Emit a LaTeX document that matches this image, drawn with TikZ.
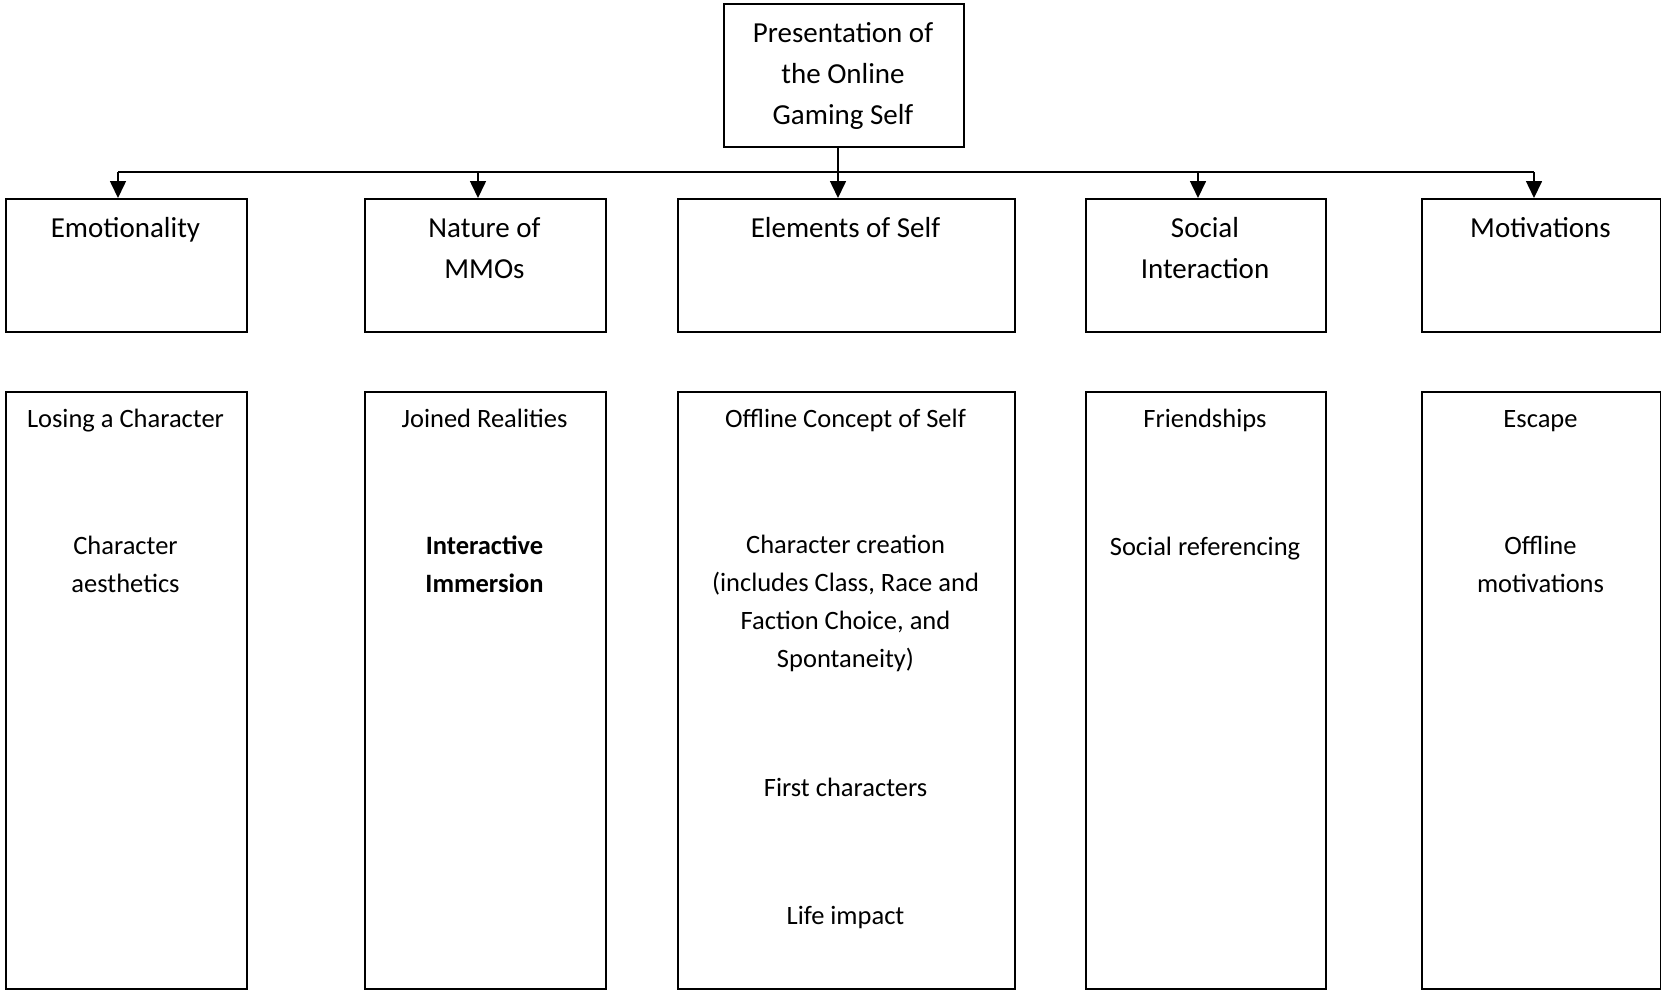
\documentclass[tikz,border=0pt]{standalone}
\usepackage{fontspec}
\setmainfont{Carlito}
\usetikzlibrary{arrows.meta}
\begin{document}
\begin{tikzpicture}[x=1pt,y=-1pt,
  box/.style={draw,line width=1.6pt,inner sep=0pt,anchor=north west},
  big/.style={font=\fontsize{29}{41}\selectfont,align=center,inner sep=0pt},
  small/.style={font=\fontsize{26.5}{38}\selectfont,align=center,inner sep=0pt},
  one/.style={text height=22pt,text depth=2.8pt},
  conn/.style={line width=1.6pt},
  arr/.style={line width=1.6pt,-{Triangle[width=16pt,length=17pt]}}]
\useasboundingbox (0,0) rectangle (1661,989);
% top box
\node[box,minimum width=240pt,minimum height=143pt] (top) at (723,3) {};
\node[big] (toptxt) at (843,76) {Presentation of\\the Online\\Gaming Self};
% row 1 boxes
\node[box,minimum width=241pt,minimum height=133pt] (e1) at (5,198) {};
\node[box,minimum width=241pt,minimum height=133pt] (e2) at (364,198) {};
\node[box,minimum width=337pt,minimum height=133pt] (e3) at (677,198) {};
\node[box,minimum width=240pt,minimum height=133pt] (e4) at (1085,198) {};
\node[box,minimum width=239pt,minimum height=133pt] (e5) at (1421,198) {};
\node[big,one] (t1) at (125.5,228) {Emotionality};
\node[big] (t2) at (484.5,248) {Nature of\\MMOs};
\node[big,one] (t3) at (845.5,228) {Elements of Self};
\node[big] (t4) at (1205,248) {Social\\Interaction};
\node[big,one] (t5) at (1540.5,228) {Motivations};
% row 2 boxes
\node[box,minimum width=241pt,minimum height=597pt] (b1) at (5,391) {};
\node[box,minimum width=241pt,minimum height=597pt] (b2) at (364,391) {};
\node[box,minimum width=337pt,minimum height=597pt] (b3) at (677,391) {};
\node[box,minimum width=240pt,minimum height=597pt] (b4) at (1085,391) {};
\node[box,minimum width=239pt,minimum height=597pt] (b5) at (1421,391) {};
\node[small,one] (s1a) at (125.5,418) {Losing a Character};
\node[small] (s1b) at (125.5,564.5) {Character\\aesthetics};
\node[small,one] (s2a) at (484.5,418) {Joined Realities};
\node[small,font=\fontsize{26.5}{38}\selectfont\bfseries] (s2b) at (484.5,564.5) {Interactive\\Immersion};
\node[small,one] (s3a) at (845.5,418) {Offline Concept of Self};
\node[small] (s3b) at (845.5,603.5) {Character creation\\(includes Class, Race and\\Faction Choice, and\\Spontaneity)};
\node[small,one] (s3c) at (845.5,787) {First characters};
\node[small,one] (s3d) at (845.5,915) {Life impact};
\node[small,one] (s4a) at (1205,418) {Friendships};
\node[small,one] (s4b) at (1205,545.5) {Social referencing};
\node[small,one] (s5a) at (1540.5,418) {Escape};
\node[small] (s5b) at (1540.5,564.5) {Offline\\motivations};
% connectors
\coordinate (j1) at (118,172);
\coordinate (j2) at (478,172);
\coordinate (j3) at (838,172);
\coordinate (j4) at (1198,172);
\coordinate (j5) at (1534,172);
\draw[conn] (top.south -| j3) -- (j3);
\draw[conn] (j1) -- (j5);
\draw[arr] (j1) -- (j1 |- e1.north);
\draw[arr] (j2) -- (j2 |- e2.north);
\draw[arr] (j3) -- (j3 |- e3.north);
\draw[arr] (j4) -- (j4 |- e4.north);
\draw[arr] (j5) -- (j5 |- e5.north);
\end{tikzpicture}
\end{document}
